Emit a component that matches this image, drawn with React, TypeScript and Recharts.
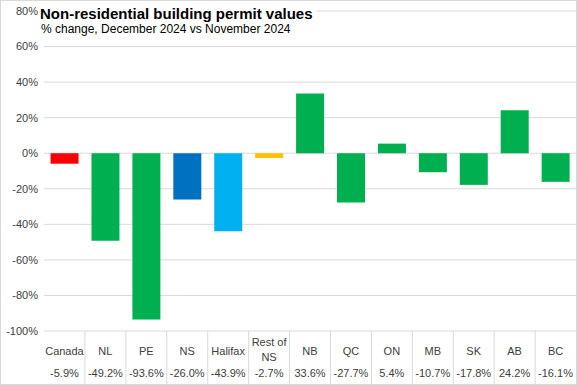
import { BarChart, Bar, XAxis, YAxis, CartesianGrid, Cell } from "recharts";

const categories = ["Canada", "NL", "PE", "NS", "Halifax", "Rest of NS", "NB", "QC", "ON", "MB", "SK", "AB", "BC"];
const changes = [-5.9, -49.2, -93.6, -26.0, -43.9, -2.7, 33.6, -27.7, 5.4, -10.7, -17.8, 24.2, -16.1];
const barColors = ["#FF0000", "#00B050", "#00B050", "#0070C0", "#00B0F0", "#FFC000", "#00B050", "#00B050", "#00B050", "#00B050", "#00B050", "#00B050", "#00B050"];
const yTicks = [-100, -80, -60, -40, -20, 0, 20, 40, 60, 80];

const data = categories.map((name, i) => ({ name, value: changes[i] }));

const font = "'Liberation Sans', Arial, sans-serif";

function fmt(v: number) {
  return v.toFixed(1) + "%";
}

function TableTick(props: any) {
  const { x, y, index } = props;
  const name: string = categories[index];
  const half = 20.5;
  const lines = name.length > 8 ? [name.slice(0, name.lastIndexOf(" ")), name.slice(name.lastIndexOf(" ") + 1)] : [name];
  return (
    <g>
      {index < categories.length - 1 && (
        <line x1={x + half} x2={x + half} y1={y} y2={y + 55} stroke="#d9d9d9" />
      )}
      {lines.length === 1 ? (
        <text x={x} y={y + 24} textAnchor="middle" fontSize={11} fill="#404040" fontFamily={font}>
          {lines[0]}
        </text>
      ) : (
        <text textAnchor="middle" fontSize={11} fill="#404040" fontFamily={font}>
          <tspan x={x} y={y + 15}>{lines[0]}</tspan>
          <tspan x={x} y={y + 30}>{lines[1]}</tspan>
        </text>
      )}
      <text x={x} y={y + 46} textAnchor="middle" fontSize={11} fill="#404040" fontFamily={font}>
        {fmt(changes[index])}
      </text>
    </g>
  );
}

export default function App() {
  return (
    <div
      style={{
        position: "absolute",
        left: 0,
        top: 0,
        width: 577,
        height: 385,
        background: "#fff",
        boxSizing: "border-box",
        border: "1px solid #d9d9d9",
        fontFamily: font,
      }}
    >
      <BarChart
        width={575}
        height={383}
        data={data}
        margin={{ top: 10, right: 0, left: 0, bottom: 0 }}
        barCategoryGap="16%"
      >
        <CartesianGrid vertical={false} stroke="#d9d9d9" />
        <XAxis
          dataKey="name"
          height={53}
          axisLine={false}
          tickLine={false}
          tickSize={0}
          tickMargin={0}
          interval={0}
          tick={<TableTick />}
        />
        <YAxis
          width={43}
          domain={[-100, 80]}
          ticks={yTicks}
          axisLine={false}
          tickLine={false}
          tickSize={4}
          tickFormatter={(v: number) => v + "%"}
          tick={{ fontSize: 11, fill: "#404040", fontFamily: font }}
        />
        <Bar dataKey="value" isAnimationActive={false}>
          {data.map((d, i) => (
            <Cell key={d.name} fill={barColors[i]} />
          ))}
        </Bar>
      </BarChart>
      <div
        style={{
          position: "absolute",
          left: 39,
          top: 4,
          fontSize: 15,
          fontWeight: "bold",
          color: "#000",
          background: "#fff",
          paddingRight: 4,
        }}
      >
        Non-residential building permit values
      </div>
      <div style={{ position: "absolute", left: 40, top: 21, fontSize: 12, color: "#000" }}>
        % change, December 2024 vs November 2024
      </div>
    </div>
  );
}
